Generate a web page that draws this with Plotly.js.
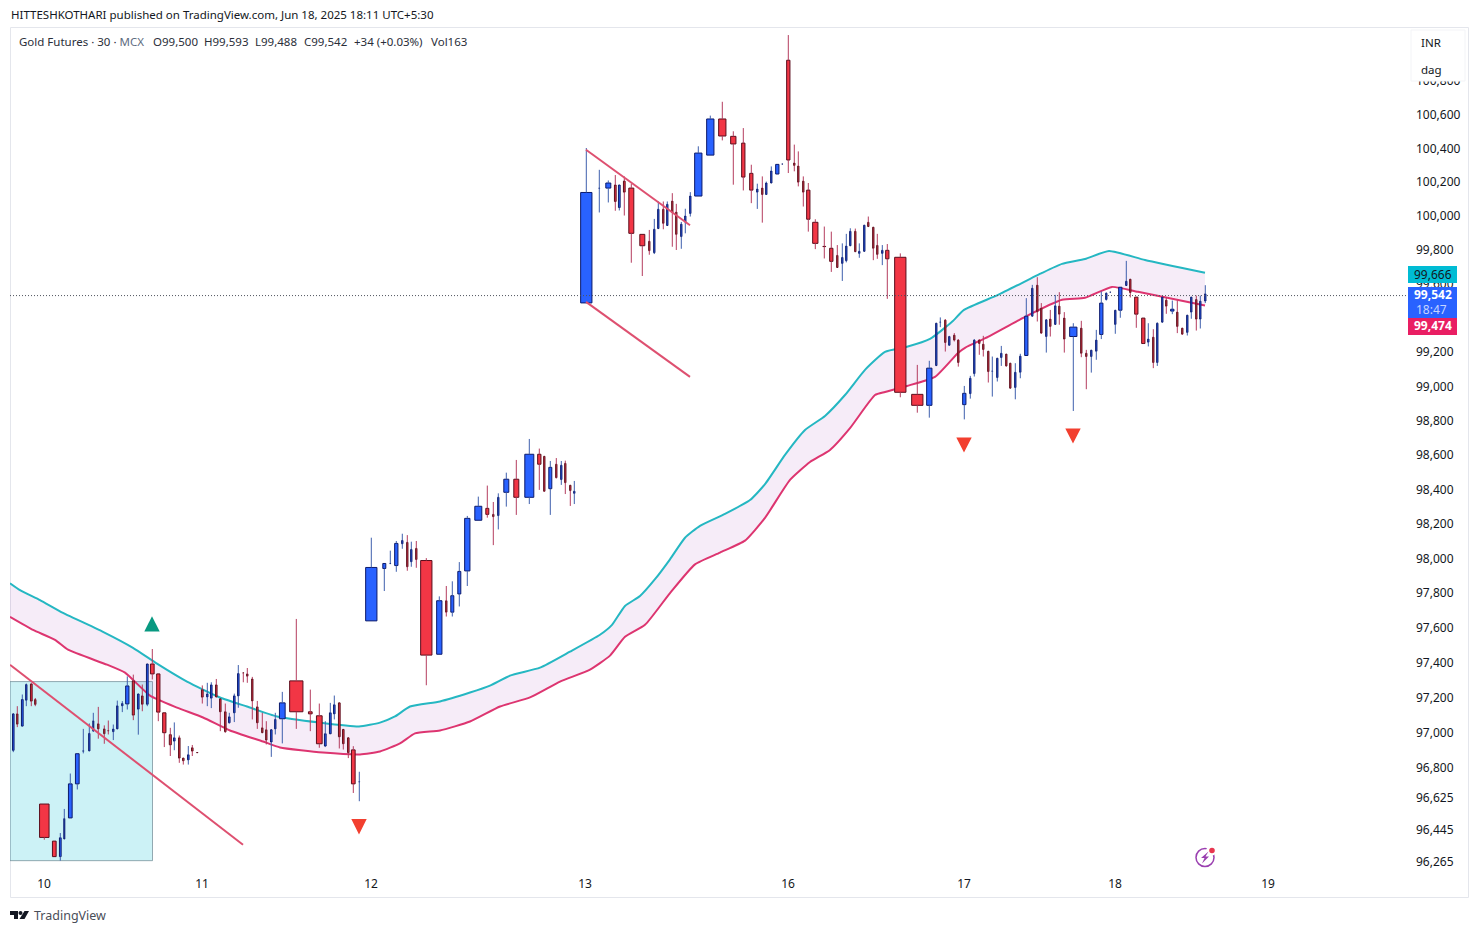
<!DOCTYPE html>
<html>
<head>
<meta charset="utf-8">
<script src="https://cdn.plot.ly/plotly-3.0.1.min.js"></script>
<style>html,body{margin:0;padding:0;background:#fff}#chart{width:1479px;height:933px}</style>
</head>
<body>
<div id="chart"></div>
<script>
// Position along the equivolume time axis, and the candle's volume width.
const candlePos = [
13.3,17.3,22.3,26.3,31.3,35.3,44.3,54.3,60.3,64.3,70.3,77.3,83.3,89.3,93.3,98.3,104.3,108.3,113.3,117.3,
122.3,127.3,133.3,138.3,142.3,147.3,152.3,158.3,164.3,170.3,174.3,179.3,183.3,188.3,192.3,197.3,
202.3,207.3,211.3,216.3,220.3,225.3,229.3,234.3,238.3,243.3,247.3,252.3,257.3,262.3,266.3,271.3,275.3,282.3,296.3,310.3,319.3,325.3,330.3,334.3,339.3,343.3,348.3,353.3,359.3,
371.3,384.3,390.3,396.3,402.3,407.3,411.3,416.3,426.3,439.3,446.3,452.3,459.3,467.3,478.3,487.3,493.3,498.3,506.3,516.3,529.3,539.3,544.3,550.3,556.3,561.3,565.3,570.3,574.3,
586.3,599.3,608.3,615.3,619.3,624.3,631.3,642.3,649.3,654.3,658.3,663.3,667.3,672.3,676.3,681.3,685.3,690.3,698.3,710.3,722.3,733.3,743.3,751.3,757.3,762.3,766.3,771.3,777.3,782.3,788.3,794.3,798.3,803.3,808.3,815.3,824.3,831.3,837.3,842.3,846.3,850.3,855.3,859.3,864.3,868.3,873.3,877.3,882.3,887.3,
900.3,917.3,929.3,936.3,940.3,945.3,949.3,954.3,958.3,964.3,970.3,974.3,979.3,983.3,988.3,992.3,997.3,1001.3,1006.3,1010.3,1015.3,1020.3,1026.3,1032.3,1037.3,1041.3,1046.3,1050.3,1055.3,1059.3,1064.3,1073.3,1081.3,1086.3,1091.3,1096.3,1101.3,1106.3,1110.3,1115.3,1120.3,1126.3,1130.3,1136.3,1143.3,1148.3,1153.3,1157.3,1162.3,1166.3,1172.3,1177.3,1182.3,1187.3,1191.3,1196.3,1200.3,1205.3];
const candleVolume = [
2.5,2.3,2.7,2.3,2.7,2.3,10.5,4.7,2.7,2,4.7,4.7,2,2.3,2,2.3,2.3,2,2.3,2.3,
2.3,4.3,3,2.5,2.5,2.7,4.7,4.3,4.3,3,2.5,2.5,2.5,2.5,2.5,2.5,
2.7,2.3,2.5,2.5,2.5,2.5,2.5,2.5,2.5,2,2.3,2.3,2.5,2.3,2.3,2.5,2.3,6.7,14.3,4.7,6.7,2.7,2.7,2.5,2.7,2.5,2.5,4.7,2,
12.3,4,2,4.3,2.3,2.3,2.3,2.3,12.3,6.3,2.3,4,4,6.3,8,4,2.3,2.3,6,6,10,4.3,2.3,4,2.3,2.3,2.3,2.3,2.3,
12.3,2,6,2.7,2.7,2.7,6,6,2.3,2.3,2.3,2.3,2.3,2.3,2.3,2.3,2.3,2.3,8.3,8.3,8.3,6.3,4.3,4.3,2.3,2.3,2.3,2.3,4.3,2,4.3,2.3,2.3,2.3,4.3,6.3,4,4.3,2.3,2.3,2.3,2.3,2.3,2.3,2.3,2.3,2.3,2.3,2.3,4.3,
12.3,12.3,6.3,2.3,2,2.3,2.3,2.3,2.3,4.3,2.3,2.3,2.3,2.3,2.3,2,2.3,2.3,2.3,2.3,2.3,2.3,4.3,2.3,2.3,2.3,2.3,2.3,2.3,2.3,2.3,8.3,2.3,2.3,2.3,2.3,4.3,2.3,2,2.3,4.3,2.3,2.3,4.3,4.3,2.3,2.3,2.3,2.3,2.3,4.3,2.3,2.3,2.3,2.3,2.3,2.3,2.3];
const openPrice = [
96898,97107,97037,97185,97278,97189,96592,96381,96293,96393,96513,96707,96893,96895,97008,97050,97021,97011,97005,97021,
97153,97164,97296,97134,97210,97162,97393,97336,97113,96988,96951,96970,96854,96844,96913,96886,
97245,97204,97197,97273,97193,97119,97056,97113,97210,97342,97336,97307,97147,97027,97016,96946,97021,97079,97296,97119,97096,96923,96993,97107,97170,97018,96970,96901,96718,
97641,97943,97971,97960,98086,98094,97982,98059,97989,97449,97757,97691,97796,97929,98222,98291,98256,98249,98384,98460,98355,98605,98593,98405,98547,98458,98552,98425,98378,
99489,100164,100165,100183,100050,100206,100165,99892,99851,99784,99926,100040,99944,100088,100023,99879,99965,100015,100118,100360,100574,100471,100431,100252,100141,100165,100127,100195,100248,100307,100923,100313,100295,100206,100153,99963,99821,99810,99768,99721,99737,99825,99910,99780,99792,99963,99934,99827,99780,99798,
99757,98954,98890,99122,99376,99388,99241,99300,99271,98894,98958,99075,99271,99247,99206,99089,99052,99169,99189,99136,98994,99083,99181,99411,99593,99458,99292,99394,99363,99470,99400,99292,99341,99194,99175,99206,99304,99509,99552,99363,99446,99591,99628,99523,99400,99259,99288,99140,99376,99505,99441,99435,99341,99316,99435,99509,99394,99500];
const highPrice = [
97107,97151,97218,97281,97284,97198,96592,96381,96427,96564,96766,96879,97021,97052,97113,97147,97041,97069,97046,97183,
97180,97322,97332,97221,97275,97393,97479,97336,97113,97027,97058,96983,96854,96923,96929,96886,
97270,97285,97288,97307,97193,97166,97113,97223,97387,97342,97370,97319,97181,97113,97065,97016,97113,97233,97652,97246,97166,97065,97170,97212,97170,97018,96970,96922,96776,
98121,97972,98046,98102,98144,98136,98098,98102,98003,97782,97842,97869,97980,98247,98359,98423,98328,98378,98498,98572,98694,98638,98593,98566,98583,98566,98568,98425,98450,
100402,100273,100210,100242,100183,100234,100191,99892,99918,99983,100086,100086,100086,100135,100072,99965,100043,100141,100412,100594,100676,100501,100520,100303,100191,100234,100203,100293,100305,100308,101073,100422,100382,100234,100195,99981,99938,99908,99829,99839,99895,99928,99926,99839,99946,99997,99934,99895,99829,99835,
99780,99126,99150,99370,99404,99394,99296,99312,99277,99003,99062,99277,99277,99296,99206,99175,99165,99237,99189,99136,99136,99191,99517,99595,99640,99488,99390,99448,99536,99552,99435,99370,99384,99214,99212,99331,99556,99550,99553,99446,99581,99736,99628,99523,99400,99370,99335,99374,99523,99523,99503,99503,99341,99417,99523,99532,99532,99593];
const lowPrice = [
96888,97031,97037,97151,97151,97151,96389,96293,96270,96393,96513,96675,96881,96895,97008,96965,96936,96989,96957,97021,
97117,97132,97071,96988,97122,97151,97304,97065,96917,96866,96899,96827,96817,96817,96866,96884,
97166,97151,97140,97204,97008,96999,97052,97060,97142,97288,97285,97075,97021,96999,96932,96861,96989,96938,97021,97008,96913,96917,96993,97075,96909,96903,96854,96655,96608,
97641,97813,97971,97924,98057,97930,97953,97947,97271,97449,97666,97666,97724,97842,98222,98237,98078,98169,98301,98253,98316,98398,98386,98253,98465,98427,98374,98305,98316,
99489,100021,100080,100031,100033,100003,99725,99647,99772,99776,99926,99922,99944,99819,99800,99807,99898,99997,100118,100360,100447,100185,100151,100076,100042,99961,100125,100195,100248,100306,100254,100264,100175,100056,99908,99805,99750,99671,99697,99618,99727,99825,99790,99754,99792,99938,99740,99748,99711,99513,
98937,98847,98818,99122,99347,99204,99238,99263,99116,98808,98929,99058,99185,99175,99023,98941,99029,99120,99116,98990,98925,99048,99181,99411,99380,99308,99198,99292,99363,99361,99198,98857,99171,98984,99081,99156,99277,99503,99551,99308,99402,99591,99521,99343,99249,99234,99107,99120,99376,99425,99423,99312,99302,99298,99396,99327,99339,99488];
const closePrice = [
97107,97048,97189,97275,97180,97161,96402,96293,96400,96509,96707,96879,96896,96995,97067,97021,96993,97009,97020,97153,
97166,97267,97100,97221,97162,97393,97336,97117,96999,96930,96970,96854,96839,96873,96894,96885,
97203,97221,97273,97204,97119,97005,97090,97210,97338,97341,97323,97181,97056,96999,96957,97016,97075,97170,97119,97107,96936,96993,97113,97159,96976,96936,96885,96707,96719,
97949,97972,97972,98088,98105,97953,98053,97995,97444,97757,97691,97786,97926,98233,98303,98256,98243,98355,98460,98355,98605,98547,98390,98529,98469,98541,98440,98394,98390,
100139,100165,100195,100086,100183,100141,99898,99825,99796,99922,100040,99957,100069,100021,99892,99952,100000,100118,100372,100574,100473,100426,100230,100153,100159,100127,100195,100266,100305,100307,100331,100299,100200,100141,99981,99839,99820,99733,99697,99756,99823,99910,99790,99792,99946,99938,99810,99774,99798,99748,
98966,98890,99107,99370,99377,99257,99292,99271,99140,98960,99048,99271,99251,99216,99087,99090,99165,99194,99120,98990,99083,99177,99411,99575,99437,99312,99390,99351,99472,99423,99277,99347,99194,99175,99212,99271,99488,99546,99552,99446,99581,99616,99550,99423,99251,99277,99140,99370,99523,99470,99452,99351,99306,99417,99523,99394,99499,99542];

// EMA band
const upperBandPos = [10,20,40,63,103,133,157,187,220,247,277,320,359,380,395,410,440,470,490,510,540,570,600,612,625,640,655,670,685,700,725,750,765,785,805,825,845,865,885,907,930,952,964,998,1042,1062,1085,1109,1145,1205];
const upperBand = [97858,97818,97761,97687,97578,97486,97395,97292,97201,97149,97092,97057,97035,97057,97092,97149,97178,97229,97269,97326,97372,97464,97561,97618,97727,97784,97881,97996,98121,98190,98259,98339,98431,98601,98746,98828,98950,99097,99202,99232,99278,99378,99448,99536,99665,99718,99747,99794,99741,99666];
const lowerBandPos = [10,33,55,68,107,125,150,177,203,230,263,280,323,360,380,400,415,440,470,500,530,560,590,610,625,645,670,695,720,745,765,790,810,830,850,875,885,907,935,958,965,988,1025,1062,1085,1112,1138,1205];
const lowerBand = [97664,97589,97532,97475,97389,97343,97212,97143,97086,97012,96949,96915,96886,96875,96892,96938,96995,97012,97063,97149,97201,97292,97361,97441,97549,97618,97801,97967,98035,98104,98236,98456,98560,98630,98757,98950,98968,99003,99056,99196,99226,99290,99407,99507,99519,99583,99554,99474];

// Drawings
const trendA = {x:[10,243], y:[97389,96360]};
const trendB = {x:[586,690], y:[100392,99946]};
const trendC = {x:[586,690], y:[99495,99056]};
const boxZone = {x0:10, x1:152.5, y0:96270, y1:97292};
const signalUpPos = [152], signalUpPrice = [97624];
const signalDownPos = [359,964,1073], signalDownPrice = [96463,98659,98711];
const lastPriceLine = 99532;

// Axes
const dayTickPos = [44,202,371,585,788,964,1115,1268];
const dayTickText = ['10','11','12','13','16','17','18','19'];
const priceTicks = [100800,100600,100400,100200,100000,99800,99600,99200,99000,98800,98600,98400,98200,98000,97800,97600,97400,97200,97000,96800,96625,96445,96265];
const priceTickText = priceTicks.map(v => v.toLocaleString('en-US'));

// Page geometry
const L = 10, R = 1409, T = 28, B = 870;
const px = x => (x - L) / (R - L);
const py = y => (B - y) / (B - T);
const FONT = '"Noto Sans", sans-serif';
const priceRange = [Math.log10(96217), Math.log10(101115)];

const upWick = {x:[], y:[]}, downWick = {x:[], y:[]};
candlePos.forEach((x, i) => {
  const o = openPrice[i], c = closePrice[i], hi = highPrice[i], lo = lowPrice[i];
  const w = c >= o ? upWick : downWick;
  const top = Math.max(o, c), bot = Math.min(o, c);
  if (hi > top) { w.x.push(x, x, null); w.y.push(hi, top, null); }
  if (lo < bot) { w.x.push(x, x, null); w.y.push(bot, lo, null); }
});
const isUp = candlePos.map((_, i) => closePrice[i] >= openPrice[i]);

// Triangles as filled outlines around each signal's position.
const triHalfX = 7.7, triHalfP = 44;
function triangles(pos, price, dir) {
  const xs = [], ys = [];
  pos.forEach((x, i) => {
    xs.push(x - triHalfX, x + triHalfX, x, x - triHalfX, null);
    const base = price[i] - dir * triHalfP, tip = price[i] + dir * triHalfP;
    ys.push(base, base, tip, base, null);
  });
  return {x:xs, y:ys};
}
const triUp = triangles(signalUpPos, signalUpPrice, 1);
const triDown = triangles(signalDownPos, signalDownPrice, -1);

const over = {xaxis:'x2', yaxis:'y2'};
const traces = [
  {type:'scatter', mode:'lines', x:upperBandPos, y:upperBand, line:{color:'#25b7c2', width:2, shape:'spline', smoothing:0.5}, hoverinfo:'skip'},
  {type:'scatter', mode:'lines', x:lowerBandPos, y:lowerBand, line:{color:'#dd3570', width:2, shape:'spline', smoothing:0.5}, fill:'tonexty', fillcolor:'rgba(156,39,176,0.09)', hoverinfo:'skip'},
  Object.assign({type:'bar', x:candlePos, base:candlePos.map((_, i) => Math.min(openPrice[i], closePrice[i])),
    y:candlePos.map((_, i) => Math.abs(closePrice[i] - openPrice[i])),
    width:candleVolume.map(v => Math.max(v - 1, 1)),
    marker:{color:isUp.map(u => u ? '#2962ff' : '#f23645'),
            line:{color:isUp.map(u => u ? '#0c1a6b' : '#5a0d1c'), width:1}}, hoverinfo:'skip'}, over),
  Object.assign({type:'scatter', mode:'lines', x:upWick.x, y:upWick.y, line:{color:'#3f60ad', width:1}, connectgaps:false, hoverinfo:'skip'}, over),
  Object.assign({type:'scatter', mode:'lines', x:downWick.x, y:downWick.y, line:{color:'#b53c5e', width:1}, connectgaps:false, hoverinfo:'skip'}, over),
  Object.assign({type:'scatter', mode:'lines', x:trendA.x, y:trendA.y, line:{color:'#de5070', width:2}, hoverinfo:'skip'}, over),
  Object.assign({type:'scatter', mode:'lines', x:trendB.x, y:trendB.y, line:{color:'#de5070', width:2}, hoverinfo:'skip'}, over),
  Object.assign({type:'scatter', mode:'lines', x:trendC.x, y:trendC.y, line:{color:'#de5070', width:2}, hoverinfo:'skip'}, over),
  Object.assign({type:'scatter', mode:'lines', x:triUp.x, y:triUp.y, fill:'toself', fillcolor:'#089981', line:{width:0, color:'#089981'}, hoverinfo:'skip'}, over),
  Object.assign({type:'scatter', mode:'lines', x:triDown.x, y:triDown.y, fill:'toself', fillcolor:'#f23f2f', line:{width:0, color:'#f23f2f'}, hoverinfo:'skip'}, over)
];

function pbox(x0, y0, x1, y1, fill, line, layer) {
  return {type:'rect', xref:'paper', yref:'paper', x0:px(x0), x1:px(x1), y0:py(y0), y1:py(y1),
    fillcolor:fill, line:line ? {color:line, width:1} : {width:0}, layer:layer || 'above'};
}
function ppath(points, fill) {
  return {type:'path', xref:'paper', yref:'paper', layer:'above', fillcolor:fill, line:{width:0},
    path:'M' + points.map(p => px(p[0]) + ',' + py(p[1])).join(' L') + ' Z'};
}
function pcircle(cx, cy, r, fill, line) {
  return {type:'circle', xref:'paper', yref:'paper', layer:'above', x0:px(cx - r), x1:px(cx + r), y0:py(cy - r), y1:py(cy + r),
    fillcolor:fill, line:line ? {color:line, width:1.5} : {width:0}};
}

const shapes = [
  pbox(10.5, 27.5, 1468.5, 897.5, 'rgba(0,0,0,0)', '#e4e6ec', 'below'),
  {type:'rect', xref:'x', yref:'y', layer:'below', x0:boxZone.x0, x1:boxZone.x1, y0:boxZone.y0, y1:boxZone.y1,
    fillcolor:'rgba(0,188,212,0.2)', line:{color:'rgba(110,135,145,0.7)', width:1}},
  {type:'line', xref:'x', yref:'y', layer:'above', x0:10, x1:1409, y0:lastPriceLine, y1:lastPriceLine, line:{color:'#50545e', width:1, dash:'1px,2px'}},
  pbox(1411, 30, 1465, 81, '#ffffff', '#f3f4f7'),
  pbox(1408, 266, 1457, 283, '#00bcd4'),
  pbox(1408, 287, 1457, 318, '#2962ff'),
  pbox(1408, 318, 1457, 335, '#e91e63'),
  pcircle(1205, 857.5, 9, 'rgba(0,0,0,0)', '#9a3fb0'),
  pcircle(1211, 851, 5, '#ffffff'),
  pcircle(1212, 850.5, 2.8, '#e8364f'),
  ppath([[1208.5,851.5],[1201,858],[1204.5,858],[1202,863.5],[1209,856.5],[1205.5,856.5]], '#9a3fb0'),
  ppath([[10,911],[18,911],[18,919],[14,919],[14,915],[10,915]], '#131722'),
  pcircle(20.5, 913, 2, '#131722'),
  ppath([[24.5,911],[29,911],[24.5,919],[19.5,919]], '#131722')
];

function note(x, y, text, size, color, anchor) {
  return {xref:'paper', yref:'paper', x:px(x), y:py(y), text:text, showarrow:false, xanchor:anchor || 'left', yanchor:'middle',
    font:{family:FONT, size:size, color:color}, borderpad:0};
}
const annotations = [
  note(10, 14.5, 'HITTESHKOTHARI published on TradingView.com, Jun 18, 2025 18:11 UTC+5:30', 11.5, '#131722'),
  note(18, 41.5, 'Gold Futures · 30 · <span style="color:#5d6b80">MCX</span>', 11.5, '#2a2e39'),
  note(152, 41.5, 'O99,500', 11.5, '#2a2e39'),
  note(203, 41.5, 'H99,593', 11.5, '#2a2e39'),
  note(254, 41.5, 'L99,488', 11.5, '#2a2e39'),
  note(303, 41.5, 'C99,542', 11.5, '#2a2e39'),
  note(353, 41.5, '+34 (+0.03%)', 11.5, '#2a2e39'),
  note(430, 41.5, 'Vol163', 11.5, '#2a2e39'),
  note(1420, 43, 'INR', 11.5, '#131722'),
  note(1420, 69, 'dag', 11.5, '#131722'),
  note(1433, 274, '99,666', 12, '#131722', 'center'),
  note(1433, 295, '<b>99,542</b>', 12, '#ffffff', 'center'),
  note(1431, 309, '18:47', 12, '#c5d4ff', 'center'),
  note(1433, 326, '<b>99,474</b>', 12, '#ffffff', 'center'),
  note(33, 915.5, 'TradingView', 12.5, '#4a4e58')
];

const layout = {
  width:1479, height:933, autosize:false,
  margin:{l:L, r:1479 - R, t:T, b:933 - B, pad:0},
  paper_bgcolor:'#ffffff', plot_bgcolor:'#ffffff',
  showlegend:false, hovermode:false, barmode:'overlay',
  font:{family:FONT, color:'#131722', size:12},
  xaxis:{range:[L, R], showgrid:false, zeroline:false, showline:false, ticks:'',
    tickmode:'array', tickvals:dayTickPos, ticktext:dayTickText, tickfont:{family:FONT, size:12, color:'#131722'}, ticklabelstandoff:5},
  yaxis:{type:'log', side:'right', range:priceRange, showgrid:false, zeroline:false, showline:false, ticks:'',
    tickmode:'array', tickvals:priceTicks, ticktext:priceTickText, tickfont:{family:FONT, size:12, color:'#131722'}, ticklabelstandoff:6},
  xaxis2:{overlaying:'x', anchor:'y', range:[L, R], visible:false},
  yaxis2:{overlaying:'y', anchor:'x', side:'right', type:'log', range:priceRange, visible:false},
  shapes:shapes, annotations:annotations
};
Plotly.newPlot('chart', traces, layout, {displayModeBar:false, responsive:false});
</script>
</body>
</html>
